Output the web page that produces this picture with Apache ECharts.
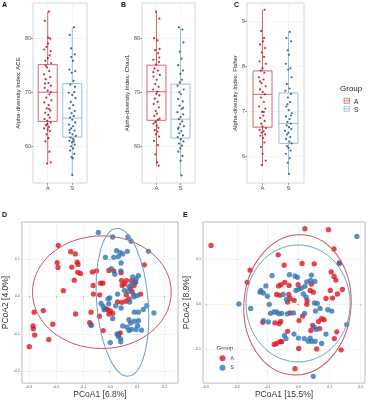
<!DOCTYPE html>
<html>
<head>
<meta charset="utf-8">
<script src="https://cdn.jsdelivr.net/npm/echarts@6/dist/echarts.min.js"></script>
<style>
html, body { margin: 0; padding: 0; background: #fff; }
#chart { width: 368px; height: 400px; }
</style>
</head>
<body>
<div id="chart"></div>
<script>
// groups (x position 1, 2 on the strip axes)
const groups = ['A', 'S'];

// box stats: [min, Q1, median, Q3, max]
const aceBoxA = [56.8, 64.6, 70.0, 75.1, 84.9];
const aceBoxS = [54.7, 61.7, 65.2, 71.6, 82.0];
const chaoBoxA = [56.4, 64.8, 70.1, 75.0, 84.9];
const chaoBoxS = [54.6, 61.5, 65.0, 71.5, 82.0];
const fisherBoxA = [5.77, 6.64, 7.37, 7.89, 9.25];
const fisherBoxS = [5.6, 6.28, 6.72, 7.4, 8.76];

// jittered samples [x, value]
const aceA = [[1.05,84.9],[0.88,83.2],[1.02,80.1],[1.1,79.9],[0.95,78.4],[1.12,77.6],[0.86,77.9],[1.08,76.8],[1.0,76.3],[0.9,75.8],[1.14,75.4],[0.97,74.6],[1.06,73.9],[0.85,73.3],[1.1,72.8],[0.92,72.4],[1.03,71.7],[1.13,71.2],[0.88,70.8],[1.0,70.3],[1.07,69.6],[0.94,69.0],[1.15,68.5],[0.86,68.1],[1.04,67.6],[0.96,67.0],[1.11,66.6],[0.9,66.2],[1.02,65.8],[1.08,65.3],[0.87,65.0],[0.98,64.7],[1.12,64.4],[0.93,63.9],[1.05,63.6],[0.85,63.3],[1.0,63.1],[1.09,62.8],[0.95,62.2],[1.03,61.5],[0.9,60.9],[1.07,59.0],[1.12,57.0],[0.97,56.8],[0.92,74.9],[1.13,70.0],[0.89,71.6],[1.06,66.9],[0.98,64.1],[1.01,79.0]];
const aceS = [[2.07,82.0],[1.9,80.6],[2.1,77.0],[1.95,78.1],[2.03,75.8],[1.88,74.2],[2.12,73.9],[1.98,73.6],[2.05,72.1],[1.92,71.4],[2.08,70.0],[1.86,69.9],[2.0,69.5],[2.13,68.9],[1.94,68.2],[2.04,67.6],[1.89,67.0],[2.1,66.5],[1.97,66.1],[2.06,65.6],[1.91,65.3],[2.0,64.9],[2.12,64.4],[1.87,64.0],[2.03,63.7],[1.95,63.3],[2.09,62.9],[1.9,62.5],[2.01,62.2],[2.14,61.9],[1.93,61.6],[2.05,61.3],[1.88,61.0],[1.99,60.7],[2.1,60.3],[1.95,60.0],[2.04,59.6],[1.91,59.2],[2.08,58.6],[1.97,58.0],[2.02,57.8],[2.0,54.7],[1.96,76.5],[2.11,71.0],[1.89,63.0],[2.06,60.9]];
const chaoA = [[1.12,83.6],[0.98,84.9],[0.9,80.0],[1.04,79.6],[1.13,78.0],[0.94,77.8],[1.07,77.2],[0.87,76.0],[1.1,75.6],[0.99,75.1],[0.92,74.4],[1.06,74.0],[1.14,73.2],[0.88,72.9],[1.01,72.3],[0.95,71.5],[1.09,71.0],[0.86,70.5],[1.03,70.1],[1.12,69.4],[0.93,68.8],[1.05,68.2],[0.89,67.8],[1.1,67.2],[0.97,66.5],[1.02,66.0],[0.91,65.6],[1.13,65.1],[1.06,64.9],[0.95,64.5],[0.88,64.2],[1.01,63.8],[1.08,63.4],[0.93,63.0],[1.04,62.7],[0.98,62.2],[1.11,61.8],[0.9,61.0],[1.06,60.2],[0.96,58.5],[1.03,57.0],[1.09,56.4],[0.87,73.7],[1.0,69.7],[1.12,76.4]];
const chaoS = [[2.08,81.6],[1.93,82.0],[2.12,79.2],[1.97,77.5],[2.04,76.2],[1.9,75.0],[2.1,74.0],[1.99,73.4],[2.06,72.3],[1.88,71.2],[2.13,70.5],[1.95,70.0],[2.02,69.6],[1.9,68.7],[2.09,68.3],[1.96,67.5],[2.05,66.9],[1.87,66.3],[2.11,65.9],[2.0,65.4],[1.93,65.0],[2.07,64.6],[1.98,64.1],[2.14,63.7],[1.9,63.2],[2.03,62.8],[1.95,62.4],[2.1,62.0],[1.88,61.7],[2.01,61.3],[2.12,60.9],[1.94,60.5],[2.06,60.1],[1.99,59.6],[1.91,59.0],[2.08,58.2],[2.0,57.3],[2.04,54.6],[1.97,71.8],[2.11,67.1],[1.92,63.5]];
const fisherA = [[1.08,9.25],[0.95,8.78],[1.02,8.55],[0.9,8.48],[1.1,8.4],[0.97,8.3],[1.06,8.2],[0.88,8.1],[1.13,8.05],[1.0,7.95],[0.93,7.9],[1.07,7.85],[0.86,7.75],[1.04,7.7],[0.96,7.62],[1.12,7.55],[0.9,7.48],[1.01,7.42],[1.09,7.37],[0.94,7.3],[1.05,7.2],[0.87,7.1],[1.11,7.05],[0.98,6.98],[1.03,6.9],[0.91,6.85],[1.08,6.78],[0.95,6.72],[1.0,6.66],[1.13,6.62],[0.89,6.58],[1.04,6.55],[0.96,6.52],[1.1,6.48],[0.92,6.45],[1.02,6.4],[1.07,6.3],[0.94,6.2],[1.0,6.05],[1.12,5.9],[0.97,5.8],[1.05,6.98],[0.9,7.66],[1.06,8.62]];
const fisherS = [[2.05,8.76],[1.92,8.62],[2.1,8.55],[1.97,8.35],[2.02,8.25],[1.9,8.05],[2.08,7.95],[1.99,7.92],[2.12,7.75],[1.94,7.6],[2.04,7.5],[1.88,7.45],[2.1,7.38],[1.98,7.3],[2.06,7.2],[1.92,7.1],[2.01,7.02],[2.13,6.95],[1.9,6.88],[2.04,6.82],[1.96,6.76],[2.09,6.72],[1.93,6.68],[2.02,6.64],[2.11,6.6],[1.87,6.56],[2.0,6.52],[1.95,6.48],[2.07,6.42],[1.91,6.38],[2.03,6.32],[2.12,6.28],[1.94,6.22],[2.0,6.18],[2.08,6.12],[1.9,6.05],[2.05,5.95],[1.97,5.85],[2.02,5.6],[2.1,6.9],[1.96,7.15]];

// PCoA D [PCoA1, PCoA2]
const pcoaDA = [[-0.192,0.136],[-0.146,0.119],[-0.129,0.113],[-0.196,0.090],[-0.193,0.077],[-0.122,0.091],[-0.142,0.078],[-0.119,0.085],[-0.120,0.064],[-0.110,0.061],[-0.133,0.043],[-0.173,0.015],[-0.066,0.065],[-0.050,0.068],[-0.063,0.029],[-0.036,0.035],[-0.027,0.035],[-0.005,0.069],[0.013,0.068],[0.040,0.063],[0.042,0.042],[0.079,0.042],[0.094,0.038],[0.088,0.029],[0.075,0.020],[0.081,0.012],[0.044,0.029],[0.053,0.033],[0.112,0.006],[0.126,0.084],[-0.039,0.004],[-0.011,-0.035],[0.000,-0.039],[-0.019,-0.033],[0.027,-0.015],[0.043,-0.016],[0.058,-0.013],[0.069,-0.007],[0.059,0.004],[-0.071,-0.042],[-0.128,-0.047],[-0.076,-0.070],[-0.070,-0.076],[-0.026,-0.091],[-0.281,-0.042],[-0.247,-0.038],[-0.212,-0.074],[-0.285,-0.079],[-0.284,-0.086],[-0.279,-0.103],[-0.227,-0.115],[-0.299,-0.134],[0.037,-0.097],[0.030,-0.102],[-0.040,-0.053],[0.009,-0.045],[-0.062,0.006],[-0.005,-0.047],[0.060,0.042]];
const pcoaDS = [[-0.044,0.170],[0.009,0.158],[0.065,0.158],[0.077,0.147],[0.023,0.122],[0.036,0.117],[0.046,0.113],[0.030,0.106],[0.063,0.120],[0.141,0.120],[-0.018,0.104],[0.013,0.104],[0.040,0.089],[0.039,0.068],[0.017,0.059],[0.004,0.074],[0.104,0.055],[0.096,0.047],[0.091,0.038],[0.077,0.031],[0.069,0.026],[0.066,0.013],[0.087,0.004],[0.100,0.002],[0.027,0.006],[-0.002,-0.004],[-0.008,-0.007],[-0.034,-0.019],[-0.026,-0.027],[-0.023,-0.036],[-0.006,-0.020],[0.020,-0.025],[0.040,-0.031],[0.072,-0.015],[0.087,-0.001],[0.104,-0.042],[0.089,-0.042],[0.122,-0.035],[0.135,-0.025],[0.161,-0.044],[0.069,-0.062],[0.075,-0.071],[0.089,-0.066],[0.101,-0.078],[0.095,-0.088],[0.078,-0.088],[0.069,-0.091],[0.062,-0.082],[0.046,-0.079],[0.025,-0.100],[0.030,-0.107],[0.038,-0.113],[0.039,-0.121],[0.000,-0.123],[-0.071,-0.077],[0.009,-0.059],[0.104,-0.065],[0.115,-0.090],[0.052,0.016],[0.083,0.052]];
// PCoA E
const pcoaEA = [[-0.283,0.130],[0.020,0.167],[0.096,0.165],[0.114,0.122],[0.131,0.091],[-0.066,0.109],[-0.047,0.086],[0.011,0.090],[0.050,0.089],[-0.157,0.075],[-0.166,0.048],[0.105,0.071],[0.114,0.061],[0.120,0.053],[0.102,0.030],[0.125,0.022],[0.141,0.032],[0.088,0.012],[0.109,0.013],[-0.045,0.048],[-0.057,0.043],[-0.031,0.041],[-0.065,0.040],[-0.002,0.043],[0.041,0.044],[-0.071,0.021],[-0.061,0.019],[-0.032,0.021],[-0.028,0.012],[-0.015,0.008],[-0.036,0.004],[0.027,0.007],[0.037,0.030],[0.047,0.026],[-0.028,-0.020],[0.026,-0.001],[0.074,-0.033],[0.082,-0.035],[0.064,-0.039],[0.045,-0.048],[-0.116,-0.041],[-0.077,-0.042],[-0.063,-0.044],[-0.058,-0.039],[-0.060,-0.084],[-0.071,-0.088],[-0.079,-0.090],[-0.055,-0.084],[0.001,-0.037],[-0.036,-0.061],[0.000,-0.099],[0.058,-0.100],[0.115,-0.077],[0.123,-0.062],[0.137,-0.102],[-0.012,-0.144],[0.039,-0.059],[0.067,-0.055],[0.013,-0.027]];
const pcoaES = [[0.188,0.150],[0.131,0.090],[0.047,-0.161],[-0.193,0.000],[-0.155,-0.010],[-0.086,0.063],[-0.030,0.065],[-0.012,0.062],[-0.004,0.059],[0.041,0.064],[0.038,0.052],[0.052,0.050],[0.026,0.049],[-0.106,0.040],[-0.122,0.030],[-0.114,0.024],[-0.125,0.026],[-0.095,-0.001],[-0.101,0.017],[-0.071,-0.018],[-0.080,-0.018],[-0.064,-0.022],[-0.091,-0.021],[-0.114,-0.037],[-0.098,-0.040],[-0.055,-0.021],[-0.037,-0.022],[-0.017,-0.020],[0.019,-0.021],[0.015,0.022],[0.024,0.015],[0.051,0.002],[0.060,0.001],[0.069,-0.010],[0.054,-0.016],[0.094,-0.013],[0.107,-0.016],[0.155,-0.046],[-0.009,0.030],[0.000,0.033],[0.008,0.035],[-0.050,0.021],[-0.039,0.010],[0.051,-0.052],[0.056,-0.057],[0.037,-0.076],[0.031,-0.083],[0.018,-0.077],[0.042,-0.083],[0.053,-0.083],[-0.001,-0.076],[-0.015,-0.067],[-0.041,-0.077],[-0.046,-0.070],[0.074,-0.088],[0.088,-0.067],[0.020,0.039]];

// confidence ellipses [cx, cy, rx, ry, angle(rad)]
const ellipseDA = [-0.031, 0.011, 0.256, 0.150, 0];
const ellipseDS = [0.045, -0.016, 0.095, 0.197, 0.08];
const ellipseEA = [-0.004, -0.002, 0.173, 0.156, -0.08];
const ellipseES = [-0.002, 0.001, 0.168, 0.130, 0];

// tick labels
const aceTicks = [60, 70, 80];
const fisherTicks = [6, 7, 8, 9];
const pcoaXTicks = [-0.3, -0.2, -0.1, 0.0, 0.1, 0.2];
const pcoaDYTicks = [-0.2, -0.1, 0.0, 0.1];
const pcoaEYTicks = [-0.1, 0.0, 0.1];

const RED = '#E0141E', BLUE = '#3274B4';
const BOX_RED = '#CF3D47', BOX_BLUE = '#82AED2';
const DOT_RED = '#B81C2A', DOT_BLUE = '#2B5A8C';
const FONT = 'Liberation Sans';

var myChart = echarts.init(document.getElementById('chart'));

function renderBox(params, api) {
  const x = api.value(0);
  const lo = api.coord([x, api.value(1)]);
  const q1 = api.coord([x, api.value(2)]);
  const md = api.coord([x, api.value(3)]);
  const q3 = api.coord([x, api.value(4)]);
  const hi = api.coord([x, api.value(5)]);
  const half = 9.5;
  const color = api.visual('color');
  const seg = (x1, y1, x2, y2) => ({
    type: 'line', shape: { x1, y1, x2, y2 }, style: { stroke: color, lineWidth: 0.8 }
  });
  return {
    type: 'group',
    children: [
      seg(hi[0], hi[1], q3[0], q3[1]),
      seg(q1[0], q1[1], lo[0], lo[1]),
      { type: 'rect', shape: { x: q3[0] - half, y: q3[1], width: half * 2, height: q1[1] - q3[1] },
        style: { fill: 'none', stroke: color, lineWidth: 0.8 } },
      seg(md[0] - half, md[1], md[0] + half, md[1])
    ]
  };
}

function renderEllipse(params, api) {
  const c = api.coord([api.value(0), api.value(1)]);
  const s = api.size([api.value(2), api.value(3)]);
  return {
    type: 'ellipse',
    x: c[0], y: c[1], rotation: api.value(4),
    shape: { cx: 0, cy: 0, rx: s[0], ry: s[1] },
    style: { fill: 'none', stroke: api.visual('color'), lineWidth: 1 }
  };
}

const grids = [
  { left: 33, top: 3, width: 54, height: 180 },
  { left: 142, top: 3, width: 53, height: 180 },
  { left: 247, top: 3, width: 57, height: 180 },
  { left: 16, top: 222, width: 162, height: 162 },
  { left: 203, top: 222, width: 162, height: 162 }
].map((g, i) => Object.assign(g, {
  show: true, backgroundColor: '#fff', borderWidth: 0.8,
  borderColor: i < 3 ? '#CCCCCC' : '#A8A8A8'
}));

function stripX(gi) {
  return {
    type: 'value', gridIndex: gi, min: 0.4, max: 2.6,
    axisLine: { show: false },
    axisTick: { customValues: [1, 2], length: 2, lineStyle: { color: '#555', width: 0.6 } },
    axisLabel: { customValues: [1, 2], formatter: v => groups[v - 1], margin: 2,
      fontSize: 6, color: '#4D4D4D', fontFamily: FONT },
    splitLine: { lineStyle: { color: '#EDEDED', width: 0.6 } }
  };
}
function valY(gi, min, max, ticks, name, gap) {
  return {
    type: 'value', gridIndex: gi, min, max,
    name, nameLocation: 'middle', nameGap: gap, nameRotate: 90,
    nameTextStyle: { fontSize: 6, color: '#222', fontFamily: FONT },
    axisLine: { show: false },
    axisTick: { customValues: ticks, length: 2, lineStyle: { color: '#555', width: 0.6 } },
    axisLabel: { customValues: ticks, margin: 2, fontSize: 5.5, color: '#4D4D4D', fontFamily: FONT },
    splitLine: { lineStyle: { color: '#EDEDED', width: 0.6 } }
  };
}
function pcoaAxis(gi, min, max, ticks, name, gap, vertical) {
  return {
    type: 'value', gridIndex: gi, min, max,
    name, nameLocation: 'middle', nameGap: gap, nameRotate: vertical ? 90 : 0,
    nameTextStyle: { fontSize: 8.5, color: '#333', fontFamily: FONT },
    axisLine: { show: false },
    axisTick: { customValues: ticks, length: 1.5, lineStyle: { color: '#777', width: 0.5 } },
    axisLabel: { customValues: ticks, margin: 2, fontSize: 3.5, color: '#555', fontFamily: FONT,
      formatter: v => v.toFixed(1) },
    splitLine: { lineStyle: { color: '#EBEBEB', width: 0.6 } }
  };
}

const boxSeries = (name, gi, boxes, color) => ({
  name, type: 'custom', xAxisIndex: gi, yAxisIndex: gi, color,
  renderItem: renderBox, encode: { x: 0, y: [1, 2, 3, 4, 5] },
  data: boxes.map((b, i) => [groups.indexOf(name) + 1].concat(b)), z: 2
});
const stripSeries = (name, gi, pts, color) => ({
  name, type: 'scatter', xAxisIndex: gi, yAxisIndex: gi, data: pts,
  symbolSize: 2.2, itemStyle: { color, opacity: 0.9 }, z: 3
});
const pcoaSeries = (name, gi, pts, color) => ({
  name, type: 'scatter', xAxisIndex: gi, yAxisIndex: gi, data: pts,
  symbolSize: 5.3, itemStyle: { color }, z: 3
});
const ellipseSeries = (name, gi, e, color) => ({
  name, type: 'custom', xAxisIndex: gi, yAxisIndex: gi, color,
  renderItem: renderEllipse, data: [e], z: 4, silent: true
});

var option = {
  animation: false,
  textStyle: { fontFamily: FONT },
  grid: grids,
  xAxis: [
    stripX(0), stripX(1), stripX(2),
    pcoaAxis(3, -0.326, 0.25, pcoaXTicks, 'PCoA1 [6.8%]', 5, false),
    pcoaAxis(4, -0.309, 0.214, pcoaXTicks, 'PCoA1 [15.5%]', 5, false)
  ],
  yAxis: [
    valY(0, 53.2, 86.5, aceTicks, 'Alpha-diversity Index: ACE', 8),
    valY(1, 53.2, 86.5, aceTicks, 'Alpha-diversity Index: Chao1', 8),
    valY(2, 5.4, 9.4, fisherTicks, 'Alpha-diversity Index: Fisher', 6),
    pcoaAxis(3, -0.231, 0.198, pcoaDYTicks, 'PCoA2 [4.0%]', 6, true),
    pcoaAxis(4, -0.176, 0.182, pcoaEYTicks, 'PCoA2 [8.9%]', 8, true)
  ],
  legend: {
    data: groups, orient: 'vertical', left: 219.5, top: 355.3,
    itemWidth: 6, itemHeight: 6, itemGap: 3.4, padding: 0, icon: 'circle',
    textStyle: { fontSize: 5, color: '#333', fontFamily: FONT }, selectedMode: false
  },
  series: [
    pcoaSeries('A', 3, pcoaDA, RED),
    pcoaSeries('S', 3, pcoaDS, BLUE),
    pcoaSeries('A', 4, pcoaEA, RED),
    pcoaSeries('S', 4, pcoaES, BLUE),
    ellipseSeries('A', 3, ellipseDA, '#C9565E'),
    ellipseSeries('S', 3, ellipseDS, '#6EA2C8'),
    ellipseSeries('A', 4, ellipseEA, '#C9565E'),
    ellipseSeries('S', 4, ellipseES, '#6EA2C8'),
    boxSeries('A', 0, [aceBoxA], BOX_RED),
    boxSeries('S', 0, [aceBoxS], BOX_BLUE),
    boxSeries('A', 1, [chaoBoxA], BOX_RED),
    boxSeries('S', 1, [chaoBoxS], BOX_BLUE),
    boxSeries('A', 2, [fisherBoxA], BOX_RED),
    boxSeries('S', 2, [fisherBoxS], BOX_BLUE),
    stripSeries('A', 0, aceA, DOT_RED),
    stripSeries('S', 0, aceS, DOT_BLUE),
    stripSeries('A', 1, chaoA, DOT_RED),
    stripSeries('S', 1, chaoS, DOT_BLUE),
    stripSeries('A', 2, fisherA, DOT_RED),
    stripSeries('S', 2, fisherS, DOT_BLUE)
  ],
  graphic: [
    // panel letters
    ...[['A', 2, 2], ['B', 121, 2], ['C', 234, 2], ['D', 2, 212], ['E', 183, 212]].map(t => ({
      type: 'text', left: t[1], top: t[2],
      style: { text: t[0], fontSize: 7, fontWeight: 'bold', fill: '#111', fontFamily: FONT }
    })),
    // box legend
    { type: 'text', left: 340, top: 85, style: { text: 'Group', fontSize: 8, fill: '#222', fontFamily: FONT } },
    ...groups.map((g, i) => ({
      type: 'group', left: 341.5, top: 98 + i * 8,
      children: [
        { type: 'rect', shape: { x: 0, y: 0, width: 5.5, height: 5 },
          style: { fill: '#F2F2F2', stroke: i ? BOX_BLUE : BOX_RED, lineWidth: 0.6 } },
        { type: 'line', shape: { x1: 0, y1: 2.5, x2: 5.5, y2: 2.5 },
          style: { stroke: i ? BOX_BLUE : BOX_RED, lineWidth: 0.6 } },
        { type: 'text', x: 10, y: 0, style: { text: g, fontSize: 6.5, fill: '#222', fontFamily: FONT } }
      ]
    })),
    // PCoA legend title
    { type: 'text', left: 216.5, top: 345, style: { text: 'Group', fontSize: 6, fill: '#222', fontFamily: FONT } }
  ]
};
myChart.setOption(option);
</script>
</body>
</html>
